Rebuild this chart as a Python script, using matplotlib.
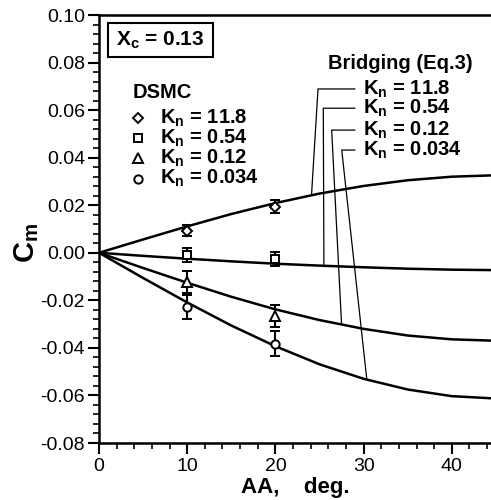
import matplotlib
matplotlib.use("Agg")
import matplotlib.pyplot as plt
from matplotlib.patches import Rectangle
from matplotlib.ticker import MultipleLocator, FormatStrFormatter

plt.rcParams['font.family'] = ['Liberation Sans', 'DejaVu Sans']
plt.rcParams['mathtext.fontset'] = 'custom'
plt.rcParams['mathtext.rm'] = 'Liberation Sans'
plt.rcParams['mathtext.bf'] = 'Liberation Sans:bold'
plt.rcParams['mathtext.it'] = 'Liberation Sans:italic'
plt.rcParams['axes.unicode_minus'] = False

# ---- data ----
kn_labels = ["11.8", "0.54", "0.12", "0.034"]
curve_aa = [0, 5, 10, 15, 20, 25, 30, 35, 40, 45]
curve_1 = [0, 0.0056, 0.0111, 0.0163, 0.0209, 0.0249, 0.0281, 0.0305, 0.0320, 0.0326]
curve_2 = [0, -0.0013, -0.0025, -0.0036, -0.0046, -0.0054, -0.0061, -0.0067, -0.0071, -0.0073]
curve_3 = [0, -0.0064, -0.0126, -0.0185, -0.0238, -0.0283, -0.0320, -0.0348, -0.0364, -0.0370]
curve_4 = [0, -0.0106, -0.0209, -0.0306, -0.0393, -0.0469, -0.0530, -0.0575, -0.0603, -0.0613]
curves = [curve_1, curve_2, curve_3, curve_4]

dsmc_aa = [10, 20]
dsmc_1 = [0.0093, 0.0194]
dsmc_2 = [-0.0009, -0.0026]
dsmc_3 = [-0.0122, -0.0266]
dsmc_4 = [-0.0228, -0.0383]
dsmc_err_1 = [0.0024, 0.0028]
dsmc_err_2 = [0.0030, 0.0031]
dsmc_err_3 = [0.0046, 0.0047]
dsmc_err_4 = [0.0050, 0.0052]
dsmc = [dsmc_1, dsmc_2, dsmc_3, dsmc_4]
dsmc_err = [dsmc_err_1, dsmc_err_2, dsmc_err_3, dsmc_err_4]
markers = ['D', 's', '^', 'o']
msizes = [5.5, 5.5, 7, 6]

# leader-line anchor points (where each callout meets its curve)
leader_target_aa = [24.1, 25.5, 27.5, 30.35]
leader_target_cm = [0.0245, -0.0052, -0.0300, -0.0528]
leader_corner_aa = [24.83, 25.43, 26.38, 27.52]
label_cm = [0.0689, 0.0608, 0.0516, 0.0432]

xticks = [0, 10, 20, 30, 40]

# ---- figure ----
fig = plt.figure(figsize=(4.91, 5.00), dpi=100)
ax = fig.add_axes([99/491, 57/500, 392/491, 428/500])
ax.set_xlim(0, 392/8.82)
ax.set_ylim(-0.08, 0.10)

for c in curves:
    ax.plot(curve_aa, c, color='black', lw=1.8, solid_capstyle='round', zorder=2)

for y, e, m, ms in zip(dsmc, dsmc_err, markers, msizes):
    ax.errorbar(dsmc_aa, y, yerr=e, fmt=m, ms=ms, mfc='white', mec='black',
                mew=1.4, ecolor='black', elinewidth=1.5, capsize=3.5, capthick=1.5,
                zorder=4)

# ticks
ax.xaxis.set_major_locator(MultipleLocator(10))
ax.xaxis.set_minor_locator(MultipleLocator(2))
ax.yaxis.set_major_locator(MultipleLocator(0.02))
ax.yaxis.set_minor_locator(MultipleLocator(0.004))
ax.yaxis.set_major_formatter(FormatStrFormatter('%.2f'))
ax.set_xticks(xticks)
ax.tick_params(which='major', direction='out', length=8, width=1.5, labelsize=14, pad=2)
ax.tick_params(which='minor', direction='out', length=4.5, width=1.2)
ax.tick_params(axis='x', which='major', pad=3)
ax.xaxis.set_ticks_position('bottom')
ax.yaxis.set_ticks_position('left')
for s in ['left', 'bottom', 'top']:
    ax.spines[s].set_linewidth(1.8)
ax.spines['right'].set_visible(False)

fig.text(27/491, 1 - 243/500, r'$\mathbf{C_m}$', fontsize=21, rotation=90,
         ha='center', va='center')
fig.text(295/491, 1 - 487/500, 'AA,    deg.', fontsize=16, fontweight='bold',
         ha='center', va='center')

# Xc box
ax.add_patch(Rectangle((9/392, (443-57)/428), 105/392, 34/428, transform=ax.transAxes,
                       fill=False, ec='black', lw=1.5, zorder=5))
ax.text(61/392, (443-40)/428, r'$\mathbf{X_c}$ = 0.13', transform=ax.transAxes,
        ha='center', va='center', fontsize=15, fontweight='bold')

# DSMC legend
ax.text(3.85, 0.0676, 'DSMC', fontsize=14.5, fontweight='bold', va='center', ha='left')
leg_y = [0.0567, 0.0483, 0.0399, 0.0312]
for m, ms, yy, lab in zip(markers, msizes, leg_y, kn_labels):
    ax.plot([4.42], [yy], marker=m, ms=ms, mfc='white', mec='black', mew=1.4, ls='none')
    ax.text(6.9, yy, r'$\mathbf{K_n}$ = ' + lab, fontsize=14.5, fontweight='bold',
            va='center', ha='left')

# Bridging legend with leader lines
ax.text(25.96, 0.0798, 'Bridging (Eq.3)', fontsize=14.5, fontweight='bold', va='center', ha='left')
for tx, ty, cx, ly, lab in zip(leader_target_aa, leader_target_cm, leader_corner_aa, label_cm, kn_labels):
    ax.plot([tx, cx, 29.0], [ty, ly, ly], color='black', lw=0.9, zorder=3)
    ax.text(29.9, ly, r'$\mathbf{K_n}$ = ' + lab, fontsize=14.5, fontweight='bold',
            va='center', ha='left')

fig.savefig('out.png', dpi=100)
